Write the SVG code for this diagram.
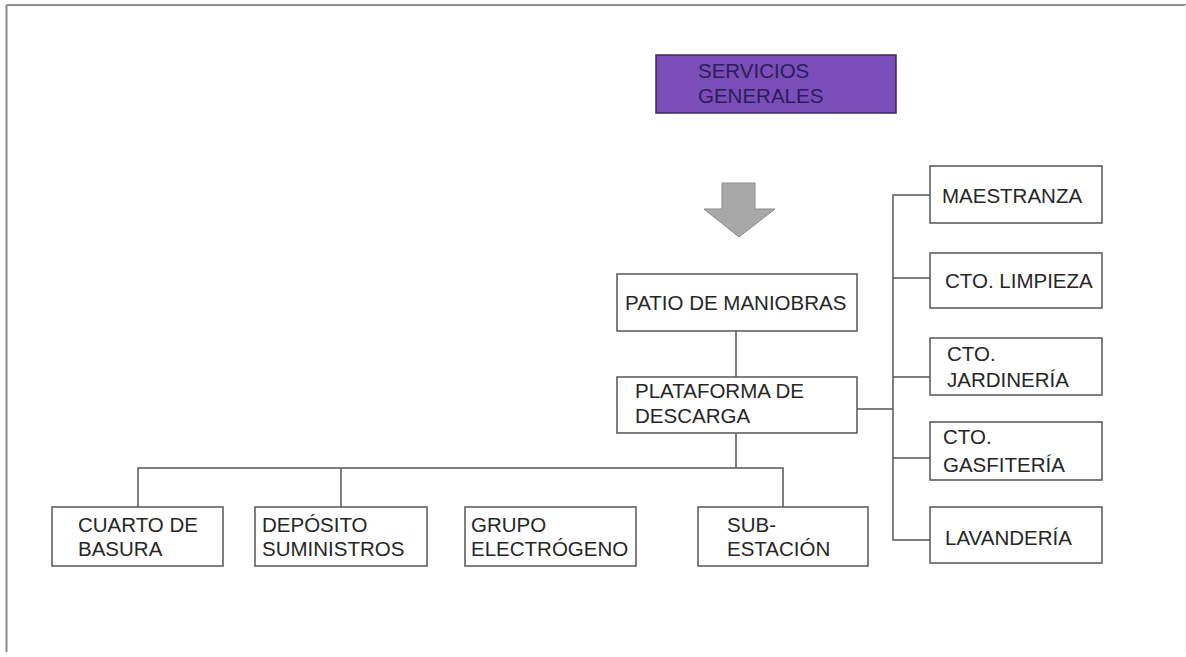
<svg xmlns="http://www.w3.org/2000/svg" width="1186" height="657" viewBox="0 0 1186 657">
<style>
.box{fill:#ffffff;stroke:#555555;stroke-width:1.5}
.t{font-family:"Liberation Sans",Arial,sans-serif;font-size:20.5px;fill:#262626}
.c{fill:none;stroke:#555555;stroke-width:1.5}
</style>
<rect width="1186" height="657" fill="#ffffff"/>
<g id="frame">
<line x1="6.5" y1="5" x2="1186" y2="5" stroke="#8c8c8c" stroke-width="2"/>
<line x1="6.5" y1="5" x2="6.5" y2="652" stroke="#8c8c8c" stroke-width="2"/>
<line x1="1185.5" y1="5" x2="1185.5" y2="652" stroke="#eeeeee" stroke-width="1"/>
</g>
<g id="connectors">
<path class="c" d="M736 331V377"/>
<path class="c" d="M736 433V468"/>
<path class="c" d="M138 507V468H783V507"/>
<path class="c" d="M341 468V507"/>
<path class="c" d="M857 409H893"/>
<path class="c" d="M930 195H893V540H930"/>
<path class="c" d="M893 278H930"/>
<path class="c" d="M893 377H930"/>
<path class="c" d="M893 458H930"/>
</g>
<g id="servicios-generales">
<rect x="656" y="55" width="240" height="58" fill="#7a4db8" stroke="#3a2a5a" stroke-width="1.5"/>
<text class="t" x="698" y="78" style="fill:#2a1d58">SERVICIOS</text>
<text class="t" x="698" y="103" style="fill:#2a1d58">GENERALES</text>
</g>
<g id="arrow">
<polygon points="722,183 755,183 755,209 775,209 739,237 704,209 722,209" fill="#a8a8a8" stroke="#8a8a8a" stroke-width="1"/>
</g>
<g id="patio">
<rect class="box" x="617" y="274" width="240" height="57"/>
<text class="t" x="625" y="310">PATIO DE MANIOBRAS</text>
</g>
<g id="plataforma">
<rect class="box" x="617" y="377" width="240" height="56"/>
<text class="t" x="635" y="398">PLATAFORMA DE</text>
<text class="t" x="635" y="423">DESCARGA</text>
</g>
<g id="maestranza">
<rect class="box" x="930" y="166" width="172" height="57"/>
<text class="t" x="942" y="203">MAESTRANZA</text>
</g>
<g id="limpieza">
<rect class="box" x="930" y="253" width="172" height="55"/>
<text class="t" x="945" y="288">CTO. LIMPIEZA</text>
</g>
<g id="jardineria">
<rect class="box" x="930" y="338" width="172" height="57"/>
<text class="t" x="947" y="361">CTO.</text>
<text class="t" x="947" y="387">JARDINERÍA</text>
</g>
<g id="gasfiteria">
<rect class="box" x="930" y="422" width="172" height="58"/>
<text class="t" x="943" y="444">CTO.</text>
<text class="t" x="943" y="472">GASFITERÍA</text>
</g>
<g id="lavanderia">
<rect class="box" x="930" y="507" width="172" height="56"/>
<text class="t" x="945" y="545">LAVANDERÍA</text>
</g>
<g id="cuarto-basura">
<rect class="box" x="52" y="507" width="171" height="59"/>
<text class="t" x="78" y="532">CUARTO DE</text>
<text class="t" x="78" y="556">BASURA</text>
</g>
<g id="deposito">
<rect class="box" x="255" y="507" width="172" height="59"/>
<text class="t" x="262" y="532">DEPÓSITO</text>
<text class="t" x="262" y="556">SUMINISTROS</text>
</g>
<g id="grupo">
<rect class="box" x="465" y="507" width="171" height="59"/>
<text class="t" x="471" y="532">GRUPO</text>
<text class="t" x="471" y="556">ELECTRÓGENO</text>
</g>
<g id="subestacion">
<rect class="box" x="698" y="507" width="170" height="59"/>
<text class="t" x="727" y="532">SUB-</text>
<text class="t" x="727" y="556">ESTACIÓN</text>
</g>
</svg>
